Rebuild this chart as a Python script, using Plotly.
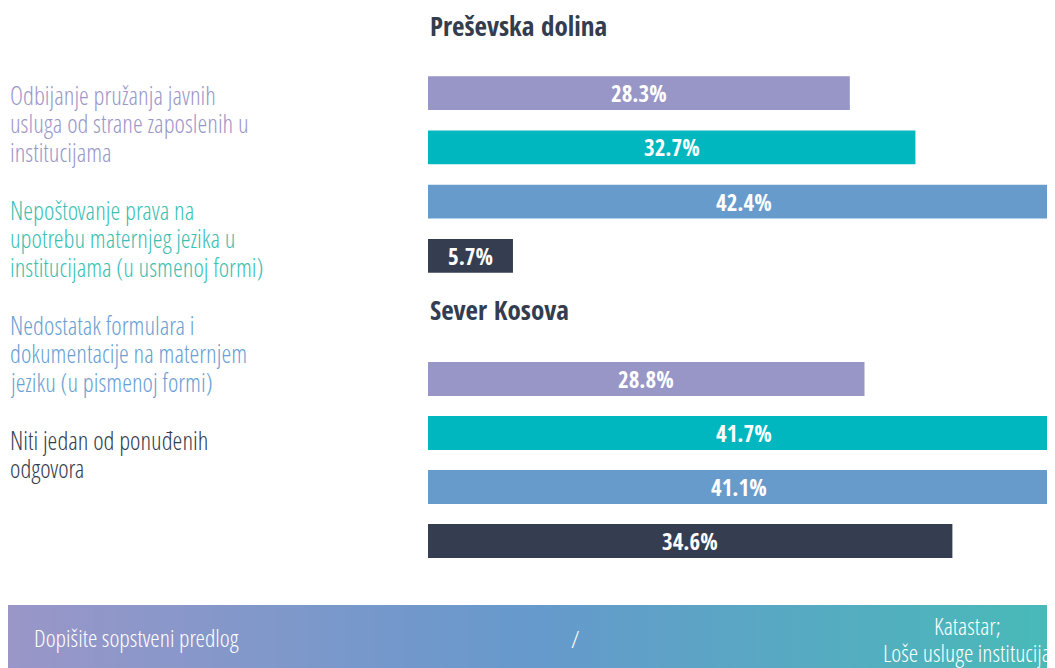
import plotly.graph_objects as go

# Datos
kategorije = [
    "Odbijanje pružanja javnih usluga od strane zaposlenih u institucijama",
    "Nepoštovanje prava na upotrebu maternjeg jezika u institucijama (u usmenoj formi)",
    "Nedostatak formulara i dokumentacije na maternjem jeziku (u pismenoj formi)",
    "Niti jedan od ponuđenih odgovora",
]
legenda_redovi = [
    ["Odbijanje pružanja javnih", "usluga od strane zaposlenih u", "institucijama"],
    ["Nepoštovanje prava na", "upotrebu maternjeg jezika u", "institucijama (u usmenoj formi)"],
    ["Nedostatak formulara i", "dokumentacije na maternjem", "jeziku (u pismenoj formi)"],
    ["Niti jedan od ponuđenih", "odgovora"],
]
presevska_dolina = [28.3, 32.7, 42.4, 5.7]
sever_kosova = [28.8, 41.7, 41.1, 34.6]
regioni = ["Preševska dolina", "Sever Kosova"]
banner_levo = "Dopišite sopstveni predlog"
banner_sredina = "/"
banner_desno = ["Katastar;", "Loše usluge institucija"]

BOJE_BAR = ["#9895c7", "#00b7bf", "#679bcc", "#343e50"]
BOJE_TEKST = ["#9b97c9", "#3cbfb1", "#6a9fd2", "#333d4f"]
TAMNA = "#333d4f"
FONT = "Open Sans Condensed, Liberation Sans Narrow, Roboto Condensed, sans-serif"
FONT_TANKI = "Open Sans Condensed Light, Open Sans Condensed, Liberation Sans Narrow, sans-serif"

# stranica ima marginu od 8px, pa je figura pomerena
OFF = 8
W, H = 1055 - OFF, 668 - OFF


def px_x(x):
    return (x - OFF) / W


def px_y(y):
    return 1 - (y - OFF) / H


X0 = px_x(428)
VIDLJIVO = 627 / 632  # najduza traka malo izlazi iz okvira
RED = 28.3  # razmak izmedju redova teksta, px

fig = go.Figure()

grupe = [
    (presevska_dolina, "x", "y"),
    (sever_kosova, "x2", "y2"),
]
for vrednosti, xa, ya in grupe:
    fig.add_trace(go.Bar(
        x=vrednosti,
        y=kategorije,
        orientation="h",
        marker=dict(color=BOJE_BAR, line_width=0),
        xaxis=xa,
        yaxis=ya,
        hoverinfo="x",
        showlegend=False,
    ))
    for kat, v in zip(kategorije, vrednosti):
        fig.add_annotation(
            x=v / 2, y=kat, xref=xa, yref=ya,
            text=f"<b>{v:.1f}%</b>", showarrow=False,
            font=dict(family=FONT, size=23, color="white"),
        )

# Gradijent traka na dnu
fig.add_trace(go.Scatter(
    x=[0, 1, 1, 0, 0], y=[0, 0, 1, 1, 0],
    fill="toself", mode="lines", line_width=0,
    fillgradient=dict(type="horizontal",
                      colorscale=[[0, "#9a96c8"], [0.5, "#6699cc"], [1, "#48bab8"]]),
    xaxis="x3", yaxis="y3", hoverinfo="skip", showlegend=False,
))

os_sakrij = dict(showgrid=False, zeroline=False, showticklabels=False, ticks="", fixedrange=True)
fig.update_layout(
    width=W, height=H,
    margin=dict(l=0, r=0, t=0, b=0),
    paper_bgcolor="white", plot_bgcolor="white",
    bargap=0.374,
    font=dict(family=FONT),
    xaxis=dict(domain=[X0, 1], range=[0, max(presevska_dolina) * VIDLJIVO], **os_sakrij),
    yaxis=dict(domain=[px_y(283), px_y(66)], range=[3.5, -0.5], **os_sakrij),
    xaxis2=dict(domain=[X0, 1], range=[0, max(sever_kosova) * VIDLJIVO], anchor="y2", **os_sakrij),
    yaxis2=dict(domain=[px_y(568), px_y(352)], range=[3.5, -0.5], anchor="x2", **os_sakrij),
    xaxis3=dict(domain=[0, 1], range=[0, 1], anchor="y3", **os_sakrij),
    yaxis3=dict(domain=[0, px_y(605)], range=[0, 1], anchor="x3", **os_sakrij),
)


def tekst(t, x_px, y_px, size, color, family=FONT_TANKI, anchor="left", weight=300):
    fig.add_annotation(
        x=px_x(x_px), y=px_y(y_px), xref="paper", yref="paper",
        xanchor=anchor, yanchor="middle", showarrow=False,
        text=t, font=dict(family=family, size=size, color=color, weight=weight),
    )


# Naslovi regiona
for naslov, y_px in zip(regioni, [25, 310]):
    tekst(f"<b>{naslov}</b>", 428, y_px, 27, TAMNA, family=FONT, weight=700)

# Legenda levo, red po red
for redovi, boja, y_px in zip(legenda_redovi, BOJE_TEKST, [95, 210, 325, 440]):
    for i, r in enumerate(redovi):
        tekst(r, 8, y_px + i * RED, 25, boja)

# Tekst na traci
tekst(banner_levo, 32, 637, 24, "white")
tekst(banner_sredina, 575, 638, 24, "white", anchor="center")
for i, r in enumerate(banner_desno):
    tekst(r, 967, 625 + i * 27, 24, "white", anchor="center")

fig.write_html("out.html")
